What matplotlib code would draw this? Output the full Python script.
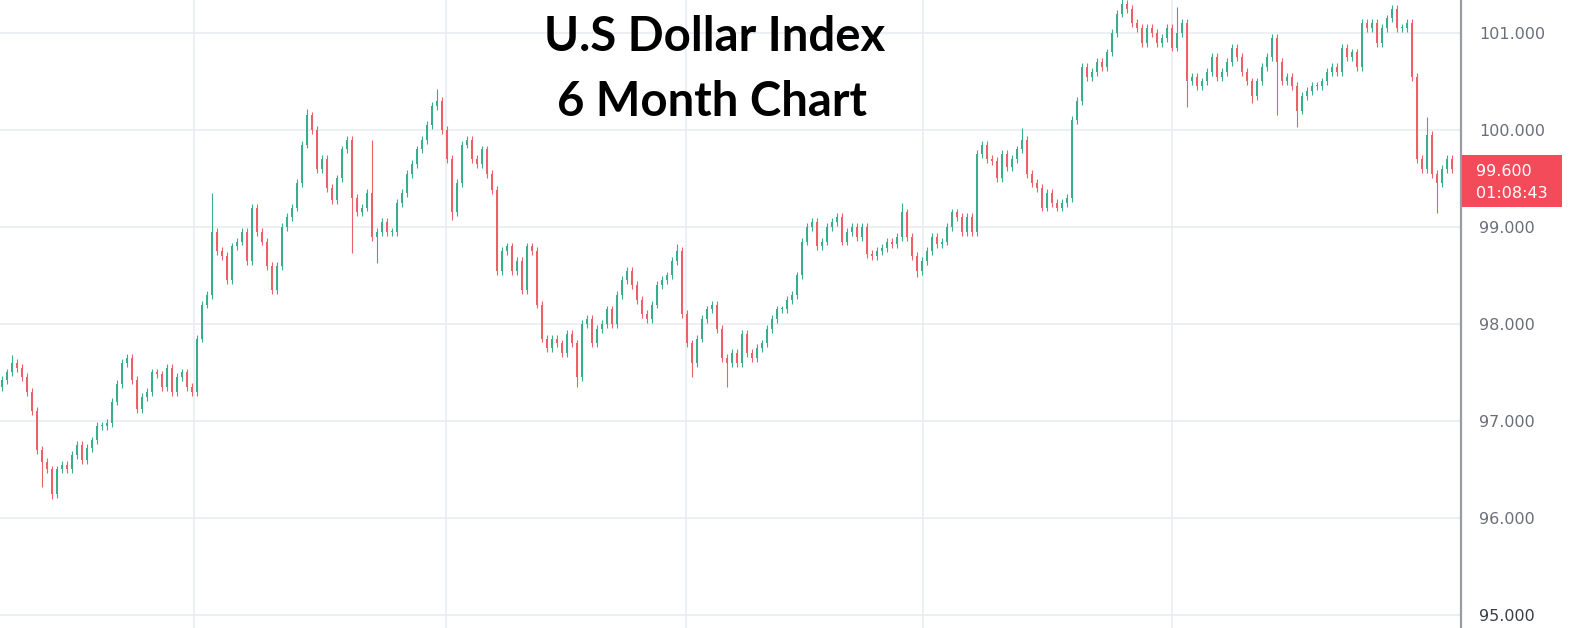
import numpy as np
import matplotlib.pyplot as plt
from matplotlib.patches import Rectangle

# closing prices, one candle every ~5 px (left -> right)
closes = [
    97.42, 97.5, 97.6, 97.55, 97.45, 97.3, 97.1, 96.7, 96.58, 96.5,
    96.25, 96.5, 96.55, 96.5, 96.65, 96.75, 96.6, 96.72, 96.8, 96.95,
    96.95, 96.98, 97.2, 97.38, 97.6, 97.65, 97.42, 97.12, 97.25, 97.3,
    97.5, 97.48, 97.35, 97.55, 97.3, 97.45, 97.5, 97.35, 97.3, 97.85,
    98.2, 98.3, 98.95, 98.75, 98.7, 98.45, 98.8, 98.85, 98.95, 98.65,
    99.2, 98.95, 98.85, 98.6, 98.35, 98.6, 99.0, 99.1, 99.2, 99.45,
    99.85, 100.15, 100.0, 99.6, 99.7, 99.4, 99.28, 99.5, 99.8, 99.9,
    99.3, 99.15, 99.2, 99.35, 98.9, 98.95, 99.05, 98.95, 98.95, 99.25,
    99.35, 99.55, 99.65, 99.8, 99.9, 100.05, 100.25, 100.3, 100.0, 99.7,
    99.15, 99.45, 99.85, 99.9, 99.7, 99.65, 99.8, 99.55, 99.38, 98.55,
    98.75, 98.8, 98.55, 98.65, 98.35, 98.8, 98.75, 98.2, 97.85, 97.75,
    97.85, 97.8, 97.7, 97.9, 97.8, 97.45, 98.0, 98.05, 97.8, 97.95,
    98.0, 98.15, 98.0, 98.3, 98.45, 98.55, 98.4, 98.25, 98.1, 98.05,
    98.2, 98.4, 98.45, 98.5, 98.65, 98.75, 98.1, 97.8, 97.6, 97.85,
    98.05, 98.15, 98.2, 97.95, 97.65, 97.6, 97.7, 97.6, 97.9, 97.7,
    97.65, 97.75, 97.8, 97.95, 98.05, 98.15, 98.15, 98.25, 98.3, 98.5,
    98.85, 99.0, 99.05, 98.8, 98.85, 99.0, 99.05, 99.1, 98.85, 98.95,
    99.0, 98.9, 99.0, 98.72, 98.7, 98.75, 98.78, 98.85, 98.82, 98.9,
    99.15, 98.9, 98.7, 98.55, 98.65, 98.75, 98.9, 98.82, 98.85, 99.0,
    99.15, 99.1, 98.95, 99.1, 98.95, 99.75, 99.85, 99.7, 99.68, 99.5,
    99.75, 99.62, 99.7, 99.8, 99.9, 99.55, 99.45, 99.4, 99.2, 99.35,
    99.25, 99.2, 99.25, 99.3, 100.1, 100.3, 100.65, 100.55, 100.6, 100.7,
    100.65, 100.8, 101.0, 101.2, 101.3, 101.25, 101.1, 101.05, 100.9, 101.05,
    101.0, 100.9, 100.95, 101.05, 100.85, 101.0, 101.1, 100.5, 100.55, 100.45,
    100.5, 100.6, 100.75, 100.55, 100.6, 100.7, 100.85, 100.75, 100.6, 100.5,
    100.35, 100.5, 100.65, 100.75, 100.95, 100.7, 100.5, 100.55, 100.45, 100.2,
    100.35, 100.4, 100.45, 100.45, 100.5, 100.6, 100.65, 100.6, 100.85, 100.75,
    100.8, 100.65, 101.1, 101.05, 101.1, 100.9, 101.05, 101.15, 101.25, 101.05,
    101.05, 101.1, 100.55, 99.7, 99.6, 99.95, 99.55, 99.45, 99.6, 99.7,
    99.6,
]
first_open = 97.35

# long wicks seen on the chart: candle index -> (high, low), None = normal wick
spikes = {
    2: (97.68, None), 8: (None, 96.32), 10: (None, 96.2), 42: (99.35, None),
    61: (100.22, None), 70: (None, 98.73), 74: (99.9, None), 75: (None, 98.63),
    87: (100.42, None), 90: (None, 99.07), 115: (None, 97.35), 135: (98.82, None),
    138: (None, 97.45), 145: (None, 97.35), 180: (99.25, None), 183: (None, 98.48),
    204: (100.02, None), 224: (101.38, None), 235: (101.27, None), 237: (None, 100.24),
    250: (None, 100.28), 255: (None, 100.15), 259: (None, 100.03),
    285: (100.13, None), 287: (None, 99.14),
}

month_starts = [38.4, 88.8, 136.8, 184.2, 234.0]  # candle positions of month gridlines
y_ticks = [95, 96, 97, 98, 99, 100, 101]
last_price = "99.600"
countdown = "01:08:43"

UP = "#3aae8c"
DOWN = "#ec6167"
GRID = "#e9edf2"

closes = np.array(closes)
opens = np.concatenate([[first_open], closes[:-1]])
wick = 0.04
highs = np.maximum(opens, closes) + wick
lows = np.minimum(opens, closes) - wick
for i, (h, l) in spikes.items():
    if h is not None:
        highs[i] = h
    if l is not None:
        lows[i] = l

x = np.arange(len(closes))
up = closes >= opens
colors = np.where(up, UP, DOWN)

fig = plt.figure(figsize=(15.7, 6.28), dpi=100)
ax = fig.add_axes([0, 0, 1461 / 1570, 1])

ax.vlines(x, lows, highs, colors=colors, linewidth=0.8, zorder=3)
body_bottom = np.minimum(opens, closes)
body_h = np.maximum(np.abs(closes - opens), 0.012)
ax.bar(x, body_h, bottom=body_bottom, width=0.45, color=colors, linewidth=0, zorder=4)

ax.set_xlim(-0.4, 291.8)
ax.set_ylim(94.866, 101.34)

for yv in y_ticks:
    ax.axhline(yv, color=GRID, linewidth=1.2, zorder=1)
for xv in month_starts:
    ax.axvline(xv, color=GRID, linewidth=1.2, zorder=1)

ax.set_xticks([])
ax.yaxis.tick_right()
ax.set_yticks(y_ticks)
ax.set_yticklabels([f"{v:.3f}" for v in y_ticks])
ax.tick_params(axis="y", length=0, pad=13, labelsize=11.5, labelcolor="#6b6e78")
ax.get_yticklabels()[0].set_color("#3a3d45")
for s in ["top", "left", "bottom"]:
    ax.spines[s].set_visible(False)
ax.spines["right"].set_color("#9a9ca3")
ax.spines["right"].set_linewidth(1.6)

# current price tag on the axis
tag = Rectangle((1462 / 1570, 1 - 207 / 628), 100 / 1570, 52 / 628,
                transform=fig.transFigure, facecolor="#f44b5a", edgecolor="none", zorder=5)
fig.patches.append(tag)
fig.text(1476 / 1570, 1 - 171 / 628, last_price, color="white", fontsize=11.5,
         va="center", ha="left", zorder=6)
fig.text(1476 / 1570, 1 - 193 / 628, countdown, color="white", fontsize=11.5,
         va="center", ha="left", zorder=6)

# title
fig.text(715 / 1570, 1 - 37 / 628, "U.S Dollar Index", fontsize=34, fontweight="bold",
         family="Lato", ha="center", va="center", color="black")
fig.text(712 / 1570, 1 - 102 / 628, "6 Month Chart", fontsize=34, fontweight="bold",
         family="Lato", ha="center", va="center", color="black")

fig.savefig("out.png", dpi=100, facecolor="white")
